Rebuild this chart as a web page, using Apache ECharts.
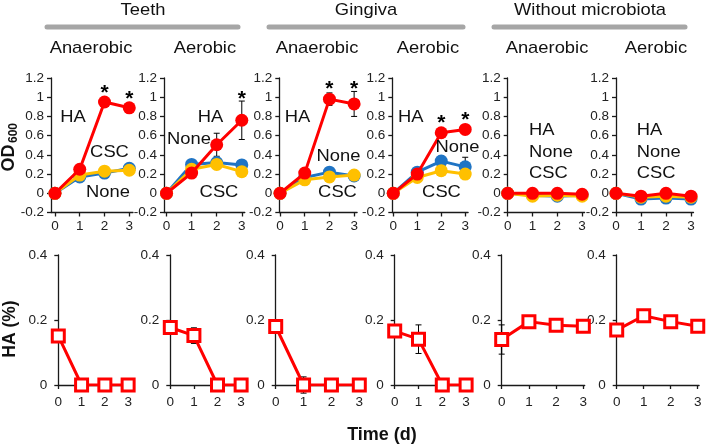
<!DOCTYPE html>
<html>
<head>
<meta charset="utf-8">
<script src="https://cdn.jsdelivr.net/npm/echarts@6/dist/echarts.min.js"></script>
<style>
html,body{margin:0;padding:0;background:#fff;}
#chart{width:708px;height:446px;}
</style>
</head>
<body>
<div id="chart"></div>
<script>
// ---------- DATA ----------
const days = [0, 1, 2, 3];
const groupTitles = ['Teeth', 'Gingiva', 'Without microbiota'];
const conditionTitles = ['Anaerobic', 'Aerobic', 'Anaerobic', 'Aerobic', 'Anaerobic', 'Aerobic'];
const seriesNames = ['None', 'CSC', 'HA'];
const odTicks = [-0.2, 0, 0.2, 0.4, 0.6, 0.8, 1, 1.2];
const haTicks = [0, 0.2, 0.4];

// OD600 (top row), one row per panel
const noneOD = [
  [0, 0.17, 0.21, 0.26],
  [0, 0.30, 0.32, 0.295],
  [0, 0.165, 0.22, 0.18],
  [0, 0.22, 0.335, 0.275],
  [0, -0.02, -0.03, -0.02],
  [0, -0.06, -0.05, -0.06]
];
const cscOD = [
  [0, 0.19, 0.23, 0.24],
  [0, 0.25, 0.30, 0.225],
  [0, 0.14, 0.17, 0.19],
  [0, 0.165, 0.235, 0.2],
  [0, -0.03, -0.02, -0.03],
  [0, -0.04, -0.03, -0.04]
];
const haOD = [
  [0, 0.25, 0.95, 0.89],
  [0, 0.21, 0.505, 0.76],
  [0, 0.21, 0.98, 0.93],
  [0, 0.2, 0.63, 0.665],
  [0, 0, 0, -0.01],
  [0, -0.03, 0, -0.03]
];
const haODErr = [
  [0, 0.02, 0.03, 0.03],
  [0, 0.03, 0.12, 0.2],
  [0, 0.02, 0.065, 0.13],
  [0, 0.02, 0.03, 0.02],
  [0, 0, 0, 0],
  [0, 0, 0, 0]
];
const noneODErr = [
  [0, 0, 0, 0],
  [0, 0, 0, 0],
  [0, 0, 0, 0],
  [0, 0.02, 0.05, 0.1],
  [0, 0, 0, 0],
  [0, 0, 0, 0]
];
// significance stars (height of star), null = none
const starOD = [
  [null, null, 1.08, 1.02],
  [null, null, null, 1.02],
  [null, null, 1.13, 1.13],
  [null, null, 0.77, 0.80],
  [null, null, null, null],
  [null, null, null, null]
];
// HA (%) bottom row
const haPct = [
  [0.151, 0, 0, 0],
  [0.177, 0.152, 0, 0],
  [0.18, 0, 0, 0],
  [0.166, 0.141, 0, 0],
  [0.14, 0.195, 0.184, 0.181],
  [0.169, 0.213, 0.195, 0.181]
];
const haPctErr = [
  [0, 0, 0, 0],
  [0, 0.024, 0, 0],
  [0, 0.025, 0, 0],
  [0.015, 0.044, 0, 0],
  [0.045, 0, 0, 0],
  [0, 0, 0, 0]
];
// in-plot series annotations per panel
const annotTexts = [
  ['HA', 'CSC', 'None'],
  ['HA', 'None', 'CSC'],
  ['HA', 'None', 'CSC'],
  ['HA', 'None', 'CSC'],
  ['HA', 'None', 'CSC'],
  ['HA', 'None', 'CSC']
];

// ---------- LAYOUT ----------
const FONT = "'Liberation Sans', Arial, sans-serif";
const SX = 1.08; // horizontal stretch of the reference text
const topLayout = [ // [axisLeft, xmin, xmax, width]
  [51, -0.16, 3.15, 82],
  [164, -0.1, 3.12, 80.8],
  [279.3, -0.03, 3.12, 77.8],
  [392.3, -0.04, 3.12, 75.8],
  [507.7, 0, 3.1, 76.9],
  [616, 0, 3.1, 77.5]
];
const botLayout = [
  [58.3, 0, 3.05, 71],
  [170.3, 0, 3.05, 72],
  [275.7, 0, 3.05, 85],
  [394.7, 0, 3.05, 72.6],
  [501.7, 0, 3.05, 83],
  [616.7, 0, 3.05, 82.4]
];
const annotPos = [
  [[73,117],[109.5,152],[108,192]],
  [[210.5,117],[189,139],[219,192]],
  [[297.5,117],[338.5,156],[337.5,192]],
  [[410.7,117],[457.5,147],[441.5,192]],
  [[529,130],[529,152],[529,173]],
  [[636.7,130],[636.7,152],[636.7,173]]
];
const titleX = [143, 366, 590];
const barX = [[47, 238], [269, 463], [494, 685]];
const condX = [91, 205, 317, 428, 547, 656];

const BLUE = '#1f74c4', YELLOW = '#ffc000', RED = '#ff0000';
const AXIS = '#1a1a1a';

function errRender(params, api) {
  const x = api.value(0), lo = api.value(1), hi = api.value(2);
  const a = api.coord([x, lo]), b = api.coord([x, hi]);
  const w = 3;
  const st = {stroke: '#000', lineWidth: 1};
  return {type: 'group', children: [
    {type: 'line', shape: {x1: a[0], y1: a[1], x2: b[0], y2: b[1]}, style: st},
    {type: 'line', shape: {x1: a[0]-w, y1: a[1], x2: a[0]+w, y2: a[1]}, style: st},
    {type: 'line', shape: {x1: b[0]-w, y1: b[1], x2: b[0]+w, y2: b[1]}, style: st}
  ]};
}
function starRender(params, api) {
  const p = api.coord([api.value(0), api.value(1)]);
  return {type: 'text', x: p[0], y: p[1] + 4, style: {text: '*', font: 'bold 21px ' + FONT, fill: '#000', align: 'center', verticalAlign: 'middle'}};
}
function errData(vals, errs) {
  const out = [];
  vals.forEach((v, i) => { if (errs[i] > 0) out.push([days[i], v - errs[i], v + errs[i]]); });
  return out;
}
function pairs(vals) { return vals.map((v, i) => [days[i], v]); }

const grids = [], xAxes = [], yAxes = [], series = [];
function axisCommon() {
  return {
    axisLine: {show: true, onZero: false, lineStyle: {color: AXIS, width: 1.3}},
    axisTick: {show: true, inside: false, length: 4, lineStyle: {color: AXIS, width: 1.3}},
    splitLine: {show: false},
    axisLabel: {fontFamily: FONT, fontSize: 13.5, color: '#222'}
  };
}

for (let p = 0; p < 6; p++) {
  const L = topLayout[p];
  grids.push({left: L[0], top: 78, width: L[3], height: 134.5});
  const gi = grids.length - 1;
  const xa = axisCommon();
  Object.assign(xa, {type: 'value', gridIndex: gi, min: L[1], max: L[2]});
  xa.axisTick.customValues = days; xa.axisLabel.customValues = days; xa.axisLabel.margin = 7;
  xAxes.push(xa);
  const ya = axisCommon();
  Object.assign(ya, {type: 'value', gridIndex: gi, min: -0.2, max: 1.2, interval: 0.2});
  ya.axisTick.customValues = odTicks; ya.axisLabel.customValues = odTicks; ya.axisLabel.margin = 7;
  yAxes.push(ya);
  const ai = xAxes.length - 1;
  series.push({type: 'custom', xAxisIndex: ai, yAxisIndex: ai, renderItem: errRender, data: errData(noneOD[p], noneODErr[p]).concat(errData(haOD[p], haODErr[p])), z: 1, silent: true});
  series.push({type: 'line', name: seriesNames[0], xAxisIndex: ai, yAxisIndex: ai, data: pairs(noneOD[p]), symbol: 'circle', symbolSize: 13, lineStyle: {color: BLUE, width: 3}, itemStyle: {color: BLUE}, z: 2, animation: false});
  series.push({type: 'line', name: seriesNames[1], xAxisIndex: ai, yAxisIndex: ai, data: pairs(cscOD[p]), symbol: 'circle', symbolSize: 13, lineStyle: {color: YELLOW, width: 3}, itemStyle: {color: YELLOW}, z: 3, animation: false});
  series.push({type: 'line', name: seriesNames[2], xAxisIndex: ai, yAxisIndex: ai, data: pairs(haOD[p]), symbol: 'circle', symbolSize: 13, lineStyle: {color: RED, width: 3}, itemStyle: {color: RED}, z: 4, animation: false});
  const sd = [];
  starOD[p].forEach((s, i) => { if (s !== null) sd.push([days[i], s]); });
  series.push({type: 'custom', xAxisIndex: ai, yAxisIndex: ai, renderItem: starRender, data: sd, z: 5, silent: true});
}
for (let p = 0; p < 6; p++) {
  const L = botLayout[p];
  grids.push({left: L[0], top: 255, width: L[3], height: 130});
  const gi = grids.length - 1;
  const xa = axisCommon();
  Object.assign(xa, {type: 'value', gridIndex: gi, min: L[1], max: L[2]});
  xa.axisTick.customValues = days; xa.axisLabel.customValues = days; xa.axisLabel.margin = 10;
  xAxes.push(xa);
  const ya = axisCommon();
  Object.assign(ya, {type: 'value', gridIndex: gi, min: 0, max: 0.4, interval: 0.2});
  ya.axisTick.customValues = haTicks; ya.axisLabel.customValues = haTicks; ya.axisLabel.margin = 11;
  yAxes.push(ya);
  const ai = xAxes.length - 1;
  series.push({type: 'custom', xAxisIndex: ai, yAxisIndex: ai, renderItem: errRender, data: errData(haPct[p], haPctErr[p]), z: 1, silent: true});
  series.push({type: 'line', name: 'HA (%)', xAxisIndex: ai, yAxisIndex: ai, data: pairs(haPct[p]), symbol: 'rect', symbolSize: 12, lineStyle: {color: RED, width: 3}, itemStyle: {color: '#fff', borderColor: RED, borderWidth: 3}, z: 4, animation: false});
}

const graphics = [];
groupTitles.forEach((t, i) => {
  graphics.push({type: 'text', x: titleX[i], y: 10, scaleX: SX, style: {text: t, font: '17px ' + FONT, fill: '#111', align: 'center', verticalAlign: 'middle'}});
  graphics.push({type: 'line', shape: {x1: barX[i][0], y1: 27, x2: barX[i][1], y2: 27}, style: {stroke: '#a6a6a6', lineWidth: 5, lineCap: 'round'}});
});
conditionTitles.forEach((t, i) => {
  graphics.push({type: 'text', x: condX[i], y: 48, scaleX: SX, style: {text: t, font: '17px ' + FONT, fill: '#111', align: 'center', verticalAlign: 'middle'}});
});
annotTexts.forEach((arr, p) => {
  arr.forEach((t, k) => {
    const pos = annotPos[p][k];
    graphics.push({type: 'text', x: pos[0], y: pos[1], z: 10, scaleX: SX, style: {text: t, font: '17px ' + FONT, fill: '#111', align: p >= 4 ? 'left' : 'center', verticalAlign: 'middle'}});
  });
});
graphics.push({type: 'text', x: 9.5, y: 158, rotation: Math.PI / 2, style: {text: 'OD', font: 'bold 18px ' + FONT, fill: '#111', align: 'center', verticalAlign: 'middle'}});
graphics.push({type: 'text', x: 13.5, y: 133, rotation: Math.PI / 2, style: {text: '600', font: 'bold 12px ' + FONT, fill: '#111', align: 'center', verticalAlign: 'middle'}});
graphics.push({type: 'text', x: 10, y: 329, rotation: Math.PI / 2, style: {text: 'HA (%)', font: 'bold 17.5px ' + FONT, fill: '#111', align: 'center', verticalAlign: 'middle'}});
graphics.push({type: 'text', x: 382, y: 435, style: {text: 'Time (d)', font: 'bold 18px ' + FONT, fill: '#111', align: 'center', verticalAlign: 'middle'}});

const chart = echarts.init(document.getElementById('chart'), null, {renderer: 'canvas'});
chart.setOption({
  animation: false,
  backgroundColor: '#fff',
  grid: grids,
  xAxis: xAxes,
  yAxis: yAxes,
  series: series,
  graphic: graphics
});
</script>
</body>
</html>
